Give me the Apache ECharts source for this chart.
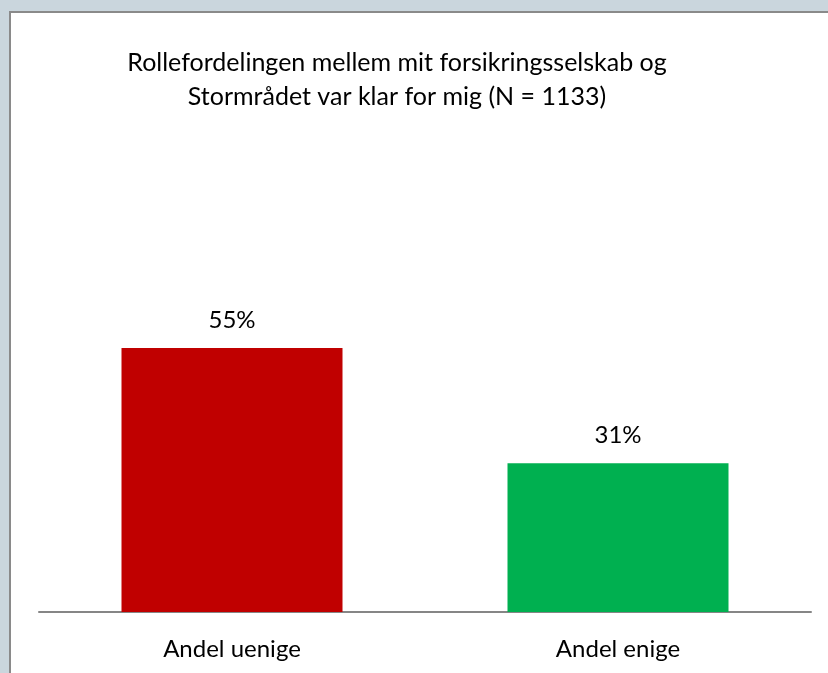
<!DOCTYPE html>
<html>
<head>
<meta charset="utf-8">
<script src="https://cdn.jsdelivr.net/npm/echarts@6/dist/echarts.min.js"></script>
<style>
  html, body { margin: 0; padding: 0; width: 828px; height: 673px; overflow: hidden; background: #cad6dd; }
  #panel { position: absolute; left: 9px; top: 11px; width: 840px; height: 680px; background: #fff; border-left: 2px solid #8a8a8a; border-top: 2px solid #8a8a8a; }
  #chart { position: absolute; left: 0; top: 0; width: 828px; height: 673px; }
</style>
</head>
<body>
<div id="panel"></div>
<div id="chart"></div>
<script>
/* === Data === */
const categories = ['Andel uenige', 'Andel enige'];
const values = [55, 31];
const barColors = ['#c00000', '#00b050'];
const titleText = 'Rollefordelingen mellem mit forsikringsselskab og\nStormrådet var klar for mig (N = 1133)';

const FONT = "Lato, 'Open Sans', sans-serif";

function initChart() {
  const el = document.getElementById('chart');
  const chart = echarts.init(el, null, { renderer: 'canvas' });
  chart.setOption({
    backgroundColor: 'transparent',
    animation: false,
    title: {
      text: titleText,
      left: 392, top: 41,
      textAlign: 'center',
      textStyle: {
        fontFamily: FONT, fontSize: 25, fontWeight: 'normal',
        color: '#000', lineHeight: 34
      }
    },
    grid: { left: 39, right: 17, top: 324, bottom: 61 },
    xAxis: {
      type: 'category',
      data: categories,
      axisLine: { lineStyle: { color: '#868686', width: 2 } },
      axisTick: { show: false },
      axisLabel: { color: '#000', fontSize: 24, fontFamily: FONT, margin: 25 }
    },
    yAxis: {
      type: 'value',
      min: 0, max: 60,
      show: false
    },
    series: [{
      type: 'bar',
      barWidth: 221,
      data: values.map((v, i) => ({ value: v, itemStyle: { color: barColors[i] } })),
      label: {
        show: true, position: 'top', distance: 16,
        color: '#000', fontSize: 24, fontFamily: FONT,
        formatter: '{c}%'
      }
    }]
  });
  window.addEventListener('resize', () => chart.resize());
}

initChart();
</script>
</body>
</html>
